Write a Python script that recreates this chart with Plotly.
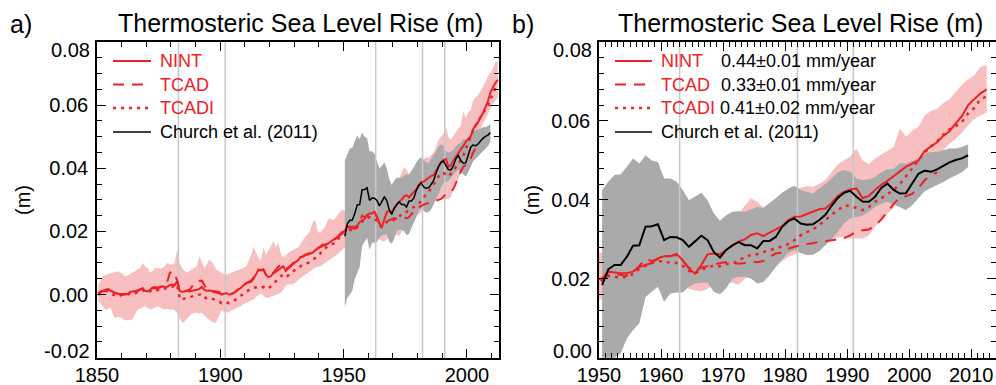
import plotly.graph_objects as go

# ---------------- data ----------------
years = list(range(1850, 2013))          # model years 1850..2012
church_years = list(range(1950, 2010))   # Church et al. years 1950..2009
volcano_years = [1883, 1902, 1963, 1982, 1991]

NINT = [
    0.0005, 0.0010, 0.0012, 0.0015, 0.0018, 0.0012, 0.0008, 0.0005, 0.0003, 0.0000,
    0.0001, 0.0000, 0.0002, 0.0008, 0.0010, 0.0008, 0.0012, 0.0015, 0.0018, 0.0012,
    0.0010, 0.0015, 0.0021, 0.0020, 0.0019, 0.0022, 0.0026, 0.0024, 0.0025, 0.0030,
    0.0032, 0.0030, 0.0042, 0.0012, 0.0008, 0.0010, 0.0012, 0.0010, 0.0011, 0.0013,
    0.0015, 0.0018, 0.0024, 0.0015, 0.0012, 0.0013, 0.0012, 0.0011, 0.0010, 0.0008,
    0.0000, 0.0003, 0.0005, 0.0000, 0.0001, 0.0005, 0.0010, 0.0016, 0.0022, 0.0030,
    0.0036, 0.0038, 0.0040, 0.0050, 0.0063, 0.0079, 0.0078, 0.0080, 0.0062, 0.0055,
    0.0058, 0.0068, 0.0072, 0.0079, 0.0085, 0.0090, 0.0075, 0.0082, 0.0090, 0.0098,
    0.0103, 0.0108, 0.0119, 0.0120, 0.0125, 0.0127, 0.0130, 0.0133, 0.0140, 0.0147,
    0.0152, 0.0158, 0.0156, 0.0160, 0.0166, 0.0172, 0.0178, 0.0182, 0.0192, 0.0198,
    0.0201, 0.0218, 0.0216, 0.0214, 0.0214, 0.0218, 0.0230, 0.0235, 0.0240, 0.0252,
    0.0257, 0.0257, 0.0263, 0.0247, 0.0225, 0.0213, 0.0235, 0.0262, 0.0264, 0.0262,
    0.0273, 0.0285, 0.0294, 0.0300, 0.0311, 0.0315, 0.0308, 0.0317, 0.0325, 0.0333,
    0.0348, 0.0357, 0.0358, 0.0364, 0.0370, 0.0376, 0.0378, 0.0392, 0.0410, 0.0420,
    0.0426, 0.0429, 0.0404, 0.0410, 0.0425, 0.0438, 0.0448, 0.0460, 0.0470, 0.0484,
    0.0492, 0.0500, 0.0524, 0.0534, 0.0546, 0.0562, 0.0574, 0.0594, 0.0612, 0.0640,
    0.0656, 0.0670, 0.0680,
]

TCAD = [
    0.0003, 0.0008, 0.0010, 0.0012, 0.0014, 0.0010, 0.0006, 0.0004, 0.0002, 0.0000,
    0.0002, 0.0001, 0.0004, 0.0007, 0.0012, 0.0010, 0.0014, 0.0017, 0.0020, 0.0015,
    0.0012, 0.0016, 0.0022, 0.0024, 0.0022, 0.0025, 0.0028, 0.0030, 0.0040, 0.0068,
    0.0074, 0.0066, 0.0045, 0.0015, 0.0008, 0.0010, 0.0012, 0.0015, 0.0025, 0.0038,
    0.0042, 0.0043, 0.0044, 0.0030, 0.0015, 0.0012, 0.0010, 0.0010, 0.0008, 0.0006,
    0.0002, 0.0003, 0.0006, 0.0001, 0.0002, 0.0006, 0.0012, 0.0018, 0.0024, 0.0031,
    0.0036, 0.0040, 0.0044, 0.0055, 0.0068, 0.0076, 0.0078, 0.0078, 0.0064, 0.0056,
    0.0060, 0.0070, 0.0078, 0.0088, 0.0094, 0.0094, 0.0082, 0.0085, 0.0092, 0.0100,
    0.0104, 0.0110, 0.0118, 0.0122, 0.0126, 0.0128, 0.0132, 0.0136, 0.0142, 0.0148,
    0.0150, 0.0155, 0.0158, 0.0162, 0.0165, 0.0170, 0.0175, 0.0180, 0.0188, 0.0193,
    0.0195, 0.0210, 0.0212, 0.0210, 0.0208, 0.0215, 0.0232, 0.0250, 0.0245, 0.0250,
    0.0255, 0.0258, 0.0260, 0.0245, 0.0228, 0.0220, 0.0228, 0.0232, 0.0236, 0.0240,
    0.0242, 0.0240, 0.0238, 0.0240, 0.0244, 0.0242, 0.0245, 0.0255, 0.0264, 0.0266,
    0.0276, 0.0281, 0.0285, 0.0288, 0.0290, 0.0294, 0.0295, 0.0298, 0.0301, 0.0303,
    0.0310, 0.0320, 0.0323, 0.0325, 0.0335, 0.0350, 0.0370, 0.0390, 0.0405, 0.0410,
    0.0415, 0.0430, 0.0450, 0.0463, 0.0470, None, None, None, None, None,
    None, None, None,
]

TCADI = [
    0.0000, 0.0005, 0.0008, 0.0010, 0.0012, 0.0005, 0.0000, -0.0002, 0.0000, -0.0003,
    0.0000, -0.0002, 0.0000, 0.0005, 0.0006, 0.0004, 0.0008, 0.0012, 0.0015, 0.0008,
    0.0006, 0.0010, 0.0016, 0.0015, 0.0014, 0.0018, 0.0020, 0.0019, 0.0020, 0.0025,
    0.0026, 0.0024, 0.0030, -0.0010, -0.0018, -0.0012, -0.0010, -0.0008, -0.0006, -0.0005,
    -0.0003, -0.0002, 0.0002, -0.0008, -0.0012, -0.0010, -0.0012, -0.0015, -0.0018, -0.0022,
    -0.0027, -0.0025, -0.0024, -0.0027, -0.0025, -0.0020, -0.0014, -0.0008, -0.0002, 0.0004,
    0.0010, 0.0014, 0.0018, 0.0022, 0.0022, 0.0020, 0.0022, 0.0024, 0.0018, 0.0020,
    0.0026, 0.0035, 0.0042, 0.0050, 0.0058, 0.0062, 0.0055, 0.0060, 0.0068, 0.0074,
    0.0079, 0.0083, 0.0090, 0.0095, 0.0098, 0.0100, 0.0105, 0.0110, 0.0116, 0.0121,
    0.0130, 0.0140, 0.0146, 0.0153, 0.0156, 0.0160, 0.0164, 0.0172, 0.0185, 0.0196,
    0.0199, 0.0207, 0.0205, 0.0203, 0.0205, 0.0212, 0.0225, 0.0232, 0.0240, 0.0244,
    0.0245, 0.0240, 0.0240, 0.0233, 0.0220, 0.0214, 0.0222, 0.0230, 0.0233, 0.0232,
    0.0237, 0.0239, 0.0245, 0.0256, 0.0260, 0.0262, 0.0268, 0.0272, 0.0277, 0.0282,
    0.0288, 0.0298, 0.0310, 0.0318, 0.0325, 0.0336, 0.0350, 0.0362, 0.0374, 0.0385,
    0.0385, 0.0380, 0.0374, 0.0382, 0.0395, 0.0404, 0.0414, 0.0425, 0.0440, 0.0460,
    0.0482, 0.0502, 0.0520, 0.0535, 0.0548, 0.0565, 0.0578, 0.0587, 0.0597, 0.0619,
    0.0633, 0.0655, 0.0662,
]

MODEL_HI = [
    0.0030, 0.0045, 0.0060, 0.0063, 0.0065, 0.0069, 0.0070, 0.0072, 0.0074, 0.0070,
    0.0065, 0.0058, 0.0060, 0.0065, 0.0069, 0.0075, 0.0079, 0.0085, 0.0100, 0.0090,
    0.0085, 0.0070, 0.0075, 0.0084, 0.0084, 0.0082, 0.0084, 0.0090, 0.0100, 0.0096,
    0.0095, 0.0100, 0.0142, 0.0100, 0.0085, 0.0075, 0.0069, 0.0075, 0.0080, 0.0084,
    0.0090, 0.0121, 0.0100, 0.0085, 0.0095, 0.0110, 0.0105, 0.0090, 0.0078, 0.0075,
    0.0068, 0.0065, 0.0064, 0.0066, 0.0069, 0.0072, 0.0076, 0.0079, 0.0082, 0.0085,
    0.0090, 0.0105, 0.0125, 0.0150, 0.0130, 0.0115, 0.0110, 0.0150, 0.0125, 0.0140,
    0.0155, 0.0169, 0.0150, 0.0164, 0.0130, 0.0118, 0.0125, 0.0132, 0.0137, 0.0142,
    0.0145, 0.0150, 0.0160, 0.0175, 0.0185, 0.0190, 0.0205, 0.0230, 0.0237, 0.0200,
    0.0195, 0.0205, 0.0215, 0.0235, 0.0242, 0.0235, 0.0240, 0.0250, 0.0262, 0.0269,
    0.0265, 0.0268, 0.0265, 0.0262, 0.0262, 0.0268, 0.0280, 0.0285, 0.0290, 0.0300,
    0.0305, 0.0310, 0.0312, 0.0300, 0.0285, 0.0275, 0.0300, 0.0320, 0.0325, 0.0320,
    0.0335, 0.0350, 0.0365, 0.0385, 0.0404, 0.0395, 0.0380, 0.0385, 0.0390, 0.0400,
    0.0415, 0.0425, 0.0430, 0.0435, 0.0433, 0.0440, 0.0450, 0.0470, 0.0490, 0.0500,
    0.0510, 0.0530, 0.0500, 0.0490, 0.0505, 0.0515, 0.0525, 0.0534, 0.0581, 0.0560,
    0.0575, 0.0585, 0.0614, 0.0625, 0.0631, 0.0645, 0.0655, 0.0673, 0.0691, 0.0705,
    0.0716, 0.0737, 0.0741,
]

MODEL_LO = [
    -0.0020, -0.0030, -0.0040, -0.0048, -0.0045, -0.0040, -0.0065, -0.0075, -0.0070, -0.0072,
    -0.0078, -0.0080, -0.0082, -0.0080, -0.0079, -0.0060, -0.0047, -0.0045, -0.0040, -0.0037,
    -0.0042, -0.0047, -0.0045, -0.0040, -0.0037, -0.0040, -0.0045, -0.0047, -0.0045, -0.0047,
    -0.0047, -0.0050, -0.0058, -0.0075, -0.0090, -0.0085, -0.0075, -0.0068, -0.0062, -0.0058,
    -0.0058, -0.0060, -0.0058, -0.0065, -0.0075, -0.0080, -0.0085, -0.0090, -0.0085, -0.0068,
    -0.0050, -0.0055, -0.0058, -0.0055, -0.0050, -0.0047, -0.0043, -0.0040, -0.0036, -0.0030,
    -0.0026, -0.0022, -0.0018, -0.0016, -0.0008, 0.0000, 0.0005, -0.0003, -0.0011, -0.0010,
    -0.0007, -0.0005, 0.0000, 0.0003, 0.0005, 0.0015, 0.0028, 0.0032, 0.0032, 0.0032,
    0.0038, 0.0045, 0.0053, 0.0058, 0.0063, 0.0069, 0.0075, 0.0082, 0.0086, 0.0088,
    0.0090, 0.0095, 0.0100, 0.0105, 0.0110, 0.0116, 0.0122, 0.0128, 0.0135, 0.0140,
    0.0150, 0.0165, 0.0170, 0.0170, 0.0168, 0.0172, 0.0180, 0.0185, 0.0190, 0.0195,
    0.0200, 0.0200, 0.0195, 0.0185, 0.0175, 0.0170, 0.0168, 0.0175, 0.0185, 0.0190,
    0.0190, 0.0190, 0.0185, 0.0200, 0.0210, 0.0215, 0.0222, 0.0228, 0.0235, 0.0245,
    0.0255, 0.0262, 0.0268, 0.0272, 0.0278, 0.0285, 0.0292, 0.0300, 0.0305, 0.0305,
    0.0302, 0.0302, 0.0302, 0.0310, 0.0332, 0.0350, 0.0365, 0.0380, 0.0400, 0.0420,
    0.0440, 0.0460, 0.0475, 0.0490, 0.0509, 0.0525, 0.0543, 0.0555, 0.0570, 0.0589,
    0.0605, 0.0614, 0.0622,
]

CHURCH = [
    0.0184, 0.0224, 0.0235, 0.0235, 0.0256, 0.0284, 0.0285, 0.0332, 0.0333, 0.0338,
    0.0298, 0.0306, 0.0305, 0.0298, 0.0281, 0.0296, 0.0309, 0.0298, 0.0268, 0.0254,
    0.0273, 0.0285, 0.0293, 0.0285, 0.0285, 0.0277, 0.0296, 0.0296, 0.0306, 0.0331,
    0.0346, 0.0353, 0.0340, 0.0337, 0.0338, 0.0349, 0.0362, 0.0385, 0.0405, 0.0418,
    0.0423, 0.0408, 0.0396, 0.0395, 0.0408, 0.0430, 0.0441, 0.0425, 0.0416, 0.0417,
    0.0441, 0.0466, 0.0474, 0.0471, 0.0477, 0.0487, 0.0495, 0.0501, 0.0505, 0.0513,
]

CHURCH_HI = [
    0.0425, 0.0446, 0.0463, 0.0465, 0.0484, 0.0505, 0.0492, 0.0513, 0.0500, 0.0496,
    0.0454, 0.0454, 0.0446, 0.0425, 0.0399, 0.0408, 0.0418, 0.0399, 0.0366, 0.0347,
    0.0361, 0.0370, 0.0371, 0.0370, 0.0376, 0.0381, 0.0380, 0.0391, 0.0404, 0.0418,
    0.0429, 0.0435, 0.0425, 0.0420, 0.0416, 0.0429, 0.0440, 0.0454, 0.0470, 0.0475,
    0.0471, 0.0454, 0.0450, 0.0452, 0.0458, 0.0470, 0.0477, 0.0479, 0.0492, 0.0492,
    0.0498, 0.0505, 0.0517, 0.0521, 0.0521, 0.0526, 0.0530, 0.0530, 0.0534, 0.0541,
]

CHURCH_LO = [
    -0.0040, -0.0010, 0.0000, 0.0011, 0.0049, 0.0070, 0.0087, 0.0154, 0.0167, 0.0180,
    0.0142, 0.0163, 0.0165, 0.0165, 0.0180, 0.0188, 0.0190, 0.0190, 0.0167, 0.0161,
    0.0176, 0.0200, 0.0205, 0.0205, 0.0201, 0.0188, 0.0192, 0.0209, 0.0230, 0.0247,
    0.0266, 0.0273, 0.0265, 0.0260, 0.0261, 0.0270, 0.0285, 0.0300, 0.0319, 0.0340,
    0.0353, 0.0357, 0.0360, 0.0370, 0.0382, 0.0390, 0.0395, 0.0388, 0.0380, 0.0374,
    0.0387, 0.0405, 0.0422, 0.0430, 0.0437, 0.0445, 0.0454, 0.0462, 0.0470, 0.0483,
]

legend_names = ["NINT", "TCAD", "TCADI", "Church et al. (2011)"]
trend_texts = ["0.44\u00b10.01 mm/year", "0.33\u00b10.01 mm/year", "0.41\u00b10.02 mm/year"]
xticks_a = [1850, 1900, 1950, 2000]
xticks_b = [1950, 1960, 1970, 1980, 1990, 2000, 2010]
yticks_a = [-0.02, 0.00, 0.02, 0.04, 0.06, 0.08]
yticks_b = [0.00, 0.02, 0.04, 0.06, 0.08]

# ---------------- style ----------------
W, H = 996, 385
FONT = "Liberation Sans, Arial, Helvetica, sans-serif"
RED = "#ee2126"
PINK = "#f8bfc0"
GRAY = "#aaaaaa"
VLINE = "#c8c8c8"
DASH = "11px,8px"
DOT = "3px,5px"

def fx(px):
    return px / W

def fy(py):
    return 1 - py / H

mid = [y + 0.5 for y in years]
cmid = [y + 0.5 for y in church_years]

fig = go.Figure()

panels = [
    dict(xa="x", ya="y", yr=[-0.02, 0.08], vl=volcano_years, bw=1.5),
    dict(xa="x2", ya="y2", yr=[0.0, 0.08], vl=volcano_years[2:], bw=2.0),
]

for p in panels:
    xa, ya = p["xa"], p["ya"]
    fig.add_trace(go.Scatter(x=mid, y=MODEL_LO, xaxis=xa, yaxis=ya, mode="lines",
                             line=dict(width=0, color=PINK), hoverinfo="skip", showlegend=False))
    fig.add_trace(go.Scatter(x=mid, y=MODEL_HI, xaxis=xa, yaxis=ya, mode="lines",
                             line=dict(width=0, color=PINK), fill="tonexty", fillcolor=PINK,
                             hoverinfo="skip", showlegend=False))
    fig.add_trace(go.Scatter(x=cmid, y=CHURCH_LO, xaxis=xa, yaxis=ya, mode="lines",
                             line=dict(width=0, color=GRAY), hoverinfo="skip", showlegend=False))
    fig.add_trace(go.Scatter(x=cmid, y=CHURCH_HI, xaxis=xa, yaxis=ya, mode="lines",
                             line=dict(width=0, color=GRAY), fill="tonexty", fillcolor=GRAY,
                             hoverinfo="skip", showlegend=False))
    for v in p["vl"]:
        fig.add_trace(go.Scatter(x=[v, v], y=p["yr"], xaxis=xa, yaxis=ya, mode="lines",
                                 line=dict(width=1.5, color=VLINE), hoverinfo="skip",
                                 showlegend=False))
    fig.add_trace(go.Scatter(x=mid, y=NINT, xaxis=xa, yaxis=ya, mode="lines",
                             line=dict(width=2, color=RED), showlegend=False))
    fig.add_trace(go.Scatter(x=mid, y=TCAD, xaxis=xa, yaxis=ya, mode="lines",
                             line=dict(width=2, color=RED, dash=DASH), showlegend=False,
                             connectgaps=False))
    fig.add_trace(go.Scatter(x=mid, y=TCADI, xaxis=xa, yaxis=ya, mode="lines",
                             line=dict(width=2.5, color=RED, dash=DOT), showlegend=False))
    fig.add_trace(go.Scatter(x=cmid, y=CHURCH, xaxis=xa, yaxis=ya, mode="lines",
                             line=dict(width=p["bw"], color="black"), showlegend=False))

axis_common = dict(showline=True, linecolor="black", linewidth=1.5, mirror="allticks",
                   ticks="inside", ticklen=9, tickwidth=1.2, tickcolor="black",
                   showgrid=False, zeroline=False, automargin=False,
                   tickfont=dict(family=FONT, size=20, color="black"))

def fmt(v):
    return "%.2f" % v

def minor(dt, t0):
    return dict(dtick=dt, tick0=t0, ticklen=5, ticks="inside", tickcolor="black",
                tickwidth=1.2, showgrid=False)

fig.update_layout(
    template="none",
    width=W, height=H, margin=dict(l=0, r=0, t=0, b=0, pad=0, autoexpand=False),
    paper_bgcolor="white", plot_bgcolor="white", showlegend=False,
    font=dict(family=FONT, color="black"),
    xaxis=dict(domain=[fx(97), fx(499)], range=[1850, 2013], tickvals=xticks_a,
               ticktext=[str(t) for t in xticks_a], anchor="y",
               minor=minor(10, 1850), ticklabelstandoff=-1, **axis_common),
    yaxis=dict(domain=[fy(357.7), fy(42)], range=[-0.02, 0.08], tickvals=yticks_a,
               ticktext=["" if (t == yticks_a[0] or t == yticks_a[-1]) else fmt(t) for t in yticks_a],
               anchor="x", minor=minor(0.005, 0), ticklabelstandoff=3, **axis_common),
    xaxis2=dict(domain=[fx(599), 1.0], range=[1950, 2014], tickvals=xticks_b,
                ticktext=[str(t) for t in xticks_b], anchor="y2",
                minor=minor(1, 1950), ticklabelstandoff=-1, **axis_common),
    yaxis2=dict(domain=[fy(357.7), fy(42)], range=[0.0, 0.08], tickvals=yticks_b,
                ticktext=["" if (t == yticks_b[0] or t == yticks_b[-1]) else fmt(t) for t in yticks_b],
                anchor="x2", minor=minor(0.004, 0), ticklabelstandoff=3, **axis_common),
)

ann = []
shapes = []

def text(x, y, s, size, color="black", xanchor="left", angle=0):
    ann.append(dict(x=fx(x), y=fy(y), xref="paper", yref="paper", text=s, showarrow=False,
                    xanchor=xanchor, yanchor="middle", textangle=angle,
                    font=dict(family=FONT, size=size, color=color)))

text(92, 50, fmt(yticks_a[-1]), 20, xanchor="right")
text(92, 350.5, fmt(yticks_a[0]), 20, xanchor="right")
text(594, 50, fmt(yticks_b[-1]), 20, xanchor="right")
text(594, 350.5, fmt(yticks_b[0]), 20, xanchor="right")

text(300.5, 23, "Thermosteric Sea Level Rise (m)", 25, xanchor="center")
text(800.5, 23, "Thermosteric Sea Level Rise (m)", 25, xanchor="center")
text(8, 24, "a)", 25)
text(510, 24, "b)", 25)
text(23, 200, "(m)", 20, xanchor="center", angle=-90)
text(532, 200, "(m)", 20, xanchor="center", angle=-90)

rows = [61, 84.5, 108, 132]
styles = [dict(color=RED, width=2), dict(color=RED, width=2, dash=DASH),
          dict(color=RED, width=2.5, dash=DOT), dict(color="black", width=1.5)]
colors = [RED, RED, RED, "black"]
for (lx0, lx1, tx) in [(113, 151, 158), (615, 652, 659)]:
    for i, r in enumerate(rows):
        shapes.append(dict(type="line", xref="paper", yref="paper", x0=fx(lx0), x1=fx(lx1),
                           y0=fy(r), y1=fy(r), line=styles[i]))
        text(tx, r, legend_names[i], 18, color=colors[i])
for i, tx in enumerate([719, 719, 718]):
    text(tx, rows[i], trend_texts[i], 18)

fig.update_layout(annotations=ann, shapes=shapes)
fig.write_html("out.html")
